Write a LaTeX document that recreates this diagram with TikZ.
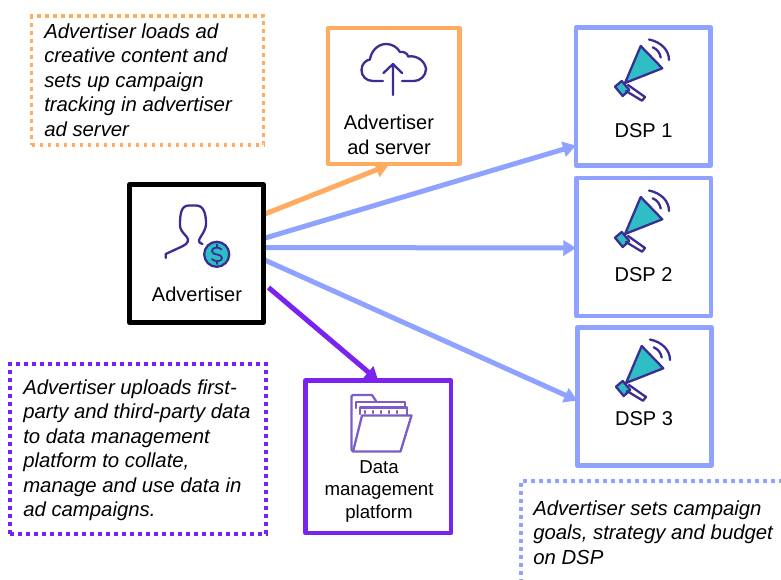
\documentclass[tikz,border=0pt]{standalone}
\usepackage{fontspec}
\setmainfont{Liberation Sans}
\usetikzlibrary{calc,arrows.meta}
\definecolor{cOrange}{HTML}{FFAB62}
\definecolor{cBlue}{HTML}{8FA2FF}
\definecolor{cPurple}{HTML}{7A22EE}
\definecolor{cInk}{HTML}{3A2E92}
\definecolor{cTeal}{HTML}{2FBEC6}
\definecolor{cFolder}{HTML}{7E5CC4}
\def\px{0.75pt}
\newcommand{\megaphone}[2]{%
\begin{scope}[shift={(#1,#2)},icon]
  \draw[fill=cTeal] (640.7,46) -- (662.3,68.3) -- (625,83) -- cycle;
  \draw[fill=cTeal] (621.7,81) -- (615,86.7) -- (622.7,96) -- (629.3,90) -- cycle;
  \draw (628,85) -- (645,97) -- (642,100.7) -- (626,91);
  \draw (652.7,47.3) .. controls (657,49) and (660,53) .. (660.7,57.5);
  \draw (649,39.5) .. controls (661,42) and (669,50) .. (669,60);
\end{scope}}
\tikzset{
  x=\px, y=-\px,
  box/.style={draw, line width=4.5*\px, line join=round, fill=white, outer sep=0pt, inner sep=0pt, minimum width=#1},
  anchorbox/.style={minimum width=#1, outer sep=0pt, inner sep=0pt},
  icon/.style={draw=cInk, line width=2.3*\px, line join=round, line cap=round},
  note/.style={draw=#1, line width=3.6*\px, dash pattern=on 3.6*\px off 4.4*\px, outer sep=0pt, inner sep=0pt},
  conn/.style={draw=#1, line width=5*\px, -{Triangle[length=13*\px,width=15*\px]}},
  lbl/.style={font=\fontsize{15}{18.4}\selectfont, align=center, inner sep=0pt},
  lblsmall/.style={font=\fontsize{14}{17}\selectfont, align=center, inner sep=0pt},
  notetext/.style={font=\fontsize{15.25}{18.4}\selectfont\itshape, align=left, inner sep=0pt, anchor=north west},
}
\begin{document}
\begin{tikzpicture}
\useasboundingbox (0,0) rectangle (781,579);
\clip (0,0) rectangle (781,579);

% named positions of the boxes; connectors run beneath the boxes' fill
\node[anchorbox=134*\px, minimum height=138*\px] (adv) at (196.5,253.5) {};
\node[anchorbox=131.5*\px, minimum height=136*\px] (srv) at (393.75,96) {};
\node[anchorbox=134.5*\px, minimum height=138*\px] (dspa) at (643.25,96.5) {};
\node[anchorbox=134.5*\px, minimum height=138*\px] (dspb) at (643.5,247) {};
\node[anchorbox=134.5*\px, minimum height=138*\px] (dspc) at (644.5,396.5) {};
\node[anchorbox=145.5*\px, minimum height=152.5*\px] (dmp) at (378.25,456.75) {};

% connectors
\draw[conn=cOrange] ($(adv.east)+(0,-39)$) -- ($(srv.south)+(-5,1)$);
\draw[conn=cBlue] ($(adv.east)+(0,-15)$) -- ($(dspa.west)+(0,49)$);
\draw[conn=cBlue] ($(adv.east)+(0,-6)$) -- ($(dspb.west)+(0,1)$);
\draw[conn=cBlue] ($(adv.east)+(0,6)$) -- ($(dspc.west)+(0,4)$);
\draw[conn=cPurple] ($(adv.east)+(5,34)$) -- ($(dmp.north)+(0,0)$);

% boxes
\node[box=134*\px, draw=black, minimum height=138*\px] (advb) at (adv) {};
\node[box=131.5*\px, draw=cOrange, minimum height=136*\px] (srvb) at (srv) {};
\node[box=134.5*\px, draw=cBlue, minimum height=138*\px] (dspab) at (dspa) {};
\node[box=134.5*\px, draw=cBlue, minimum height=138*\px] (dspbb) at (dspb) {};
\node[box=134*\px, draw=cBlue, minimum height=138*\px] (dspcb) at (dspc) {};
\node[box=145.5*\px, draw=cPurple, minimum height=152.5*\px] (dmpb) at (dmp) {};

% labels
\node[lbl] (advl) at (197,294) {Advertiser};
\node[lbl] (srvl) at (389,135) {Advertiser\\ad server};
\node[lbl] (dspal) at (643.5,131) {DSP 1};
\node[lbl] (dspbl) at (643.5,275) {DSP 2};
\node[lbl] (dspcl) at (644,419) {DSP 3};
\node[lblsmall] (dmpl) at (379,491.5) {Data\\management\\platform};

% notes
\node[note=cOrange, minimum width=232*\px, minimum height=129*\px] (na) at (147.5,80.5) {};
\node[note=cPurple, minimum width=256*\px, minimum height=170*\px] (nb) at (138,449) {};
\node[note=cBlue, minimum width=290*\px, minimum height=130*\px] (nc) at (666,546) {};
\node[notetext] (nat) at (44,23) {Advertiser loads ad\\creative content and\\sets up campaign\\tracking in advertiser\\ad server};
\node[notetext] (nbt) at (23,379) {Advertiser uploads first-\\party and third-party data\\to data management\\platform to collate,\\manage and use data in\\ad campaigns.};
\node[notetext] (nct) at (533,500) {Advertiser sets campaign\\goals, strategy and budget\\on DSP};

% advertiser icon
\draw[icon] (165.7,258) -- (165.7,254) -- (183,246)
  .. controls (188,243.5) and (189.5,240) .. (186.5,236.5)
  .. controls (182,232) and (180,229) .. (180,225)
  .. controls (180,214) and (181,205.5) .. (189,205.5)
  -- (196,205.5) .. controls (204,205.5) and (206,214) .. (206,224)
  .. controls (206,229) and (203,233) .. (200,238)
  .. controls (198,241) and (199,243) .. (202.5,244);
\draw[icon, fill=cTeal] (216.7,254.3) circle[radius=12.5];
\draw[icon, line width=1.8*\px] (221.5,249.5) .. controls (219,246.5) and (212,247) .. (212,251)
  .. controls (212,256) and (222,253) .. (222,258) .. controls (222,262) and (214,262) .. (212,259);
\draw[icon, line width=1.8*\px] (216.7,244.5) -- (216.7,247) (216.7,261) -- (216.7,264);

% cloud icon
\draw[icon] (383,81) -- (373,81)
  .. controls (366,81) and (361.5,76) .. (361.5,70)
  .. controls (361.5,64) and (366,60) .. (370,59.5)
  .. controls (371,51) and (378,44) .. (386,44)
  .. controls (392,44) and (397,47) .. (400,52)
  .. controls (404,51) and (408,54) .. (408,56.5)
  .. controls (417,55) and (425,61) .. (426,69)
  .. controls (426,76) and (420,81) .. (414,81)
  -- (402,81);
\draw[icon] (393,95) -- (393,64.5) (383.5,73) -- (393,64) -- (402,73);

% megaphones
\megaphone{0}{0}
\megaphone{0}{151}
\megaphone{1}{300}

% folder icon
\begin{scope}[icon, draw=cFolder]
  \draw (351.5,410) -- (351.5,397) .. controls (351.5,396) and (352,395) .. (353,395) -- (372,395) -- (376,401);
  \draw (351.5,410) -- (351.5,449) .. controls (351.5,450) and (352,451) .. (353,451);
  \draw (356,408) -- (356,402) -- (405,402) -- (405,407);
  \draw (360,414) -- (360,407.5) -- (407,407.5) -- (407,415);
  \draw (353,451.5) -- (400.5,451.5) -- (411.5,415.5) -- (362,415.5) -- cycle;
  \foreach \xx in {365,373,381,389,397}{\draw (\xx,411) -- (\xx,413);}
\end{scope}
\end{tikzpicture}
\end{document}
